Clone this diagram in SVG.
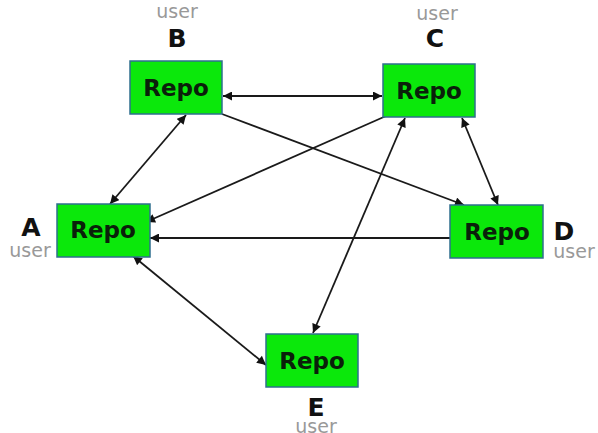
<svg xmlns="http://www.w3.org/2000/svg" width="598" height="433" viewBox="0 0 598 433">
<style>
.box{fill:#0be80b;stroke:#2f6f8f;stroke-width:1.5}
.repo{font-family:"DejaVu Sans",sans-serif;font-weight:bold;font-size:23px;fill:#0a200a;text-anchor:middle}
.lbl{font-family:"DejaVu Sans",sans-serif;font-weight:bold;font-size:25px;fill:#111;text-anchor:middle}
.usr{font-family:"DejaVu Sans",sans-serif;font-size:19px;fill:#999;text-anchor:middle}
.c{stroke:#1a1a1a;stroke-width:1.8;fill:none;marker-end:url(#ah)}
.d{marker-start:url(#ahs)}
</style>
<defs>
<marker id="ah" viewBox="0 0 10 10" refX="10" refY="5" markerWidth="10" markerHeight="9" markerUnits="userSpaceOnUse" orient="auto"><path d="M0,0 L10,5 L0,10 z" fill="#111"/></marker>
<marker id="ahs" viewBox="0 0 10 10" refX="0" refY="5" markerWidth="10" markerHeight="9" markerUnits="userSpaceOnUse" orient="auto"><path d="M10,0 L0,5 L10,10 z" fill="#111"/></marker>
</defs>
<rect width="598" height="433" fill="#fff"/>
<g id="connectors">
<line class="c d" x1="223" y1="96" x2="382" y2="96"/>
<line class="c d" x1="186" y1="115" x2="110" y2="204"/>
<line class="c" x1="222" y1="114" x2="464" y2="205"/>
<line class="c" x1="386" y1="116" x2="146" y2="222"/>
<line class="c d" x1="405" y1="118" x2="313" y2="333"/>
<line class="c d" x1="462" y1="118" x2="498" y2="205"/>
<line class="c" x1="450" y1="238" x2="150" y2="238"/>
<line class="c d" x1="133" y1="256" x2="266" y2="365"/>
</g>
<g id="nodeB">
<rect class="box" x="130" y="61" width="92" height="53"/>
<text class="repo" x="176" y="96">Repo</text>
<text class="lbl" x="177" y="47">B</text>
<text class="usr" x="177" y="18">user</text>
</g>
<g id="nodeC">
<rect class="box" x="383" y="64" width="92" height="53"/>
<text class="repo" x="429" y="99">Repo</text>
<text class="lbl" x="435" y="47">C</text>
<text class="usr" x="437" y="20">user</text>
</g>
<g id="nodeA">
<rect class="box" x="57" y="204" width="93" height="53"/>
<text class="repo" x="103" y="238">Repo</text>
<text class="lbl" x="31" y="236">A</text>
<text class="usr" x="30" y="257">user</text>
</g>
<g id="nodeD">
<rect class="box" x="450" y="205" width="93" height="53"/>
<text class="repo" x="497" y="240">Repo</text>
<text class="lbl" x="564" y="240">D</text>
<text class="usr" x="574" y="258">user</text>
</g>
<g id="nodeE">
<rect class="box" x="266" y="334" width="92" height="53"/>
<text class="repo" x="312" y="369">Repo</text>
<text class="lbl" x="316" y="416">E</text>
<text class="usr" x="316" y="433">user</text>
</g>
</svg>
